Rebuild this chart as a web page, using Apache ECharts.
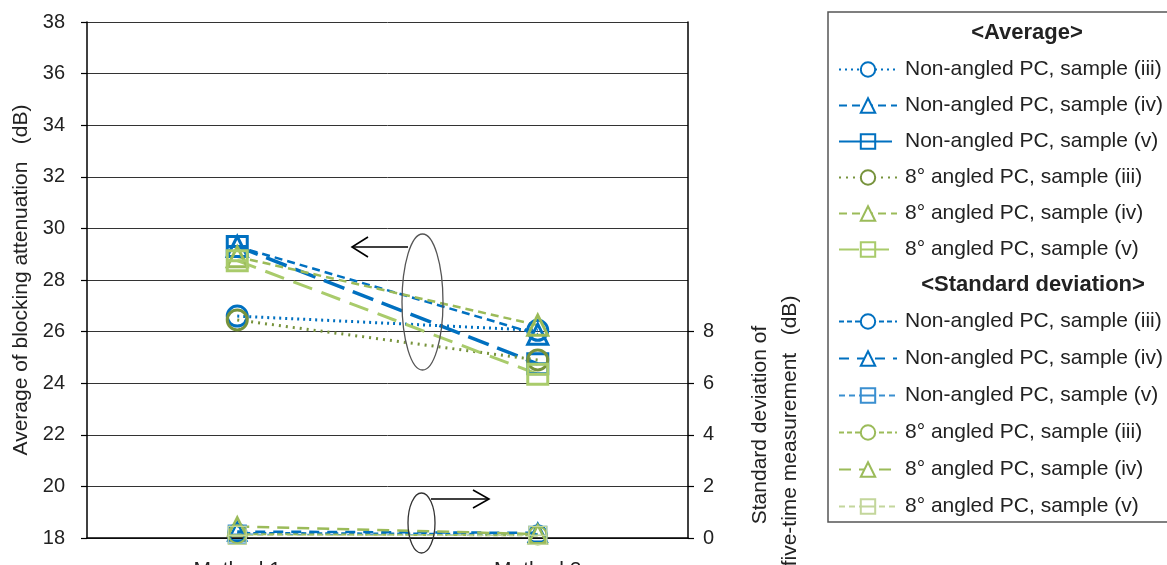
<!DOCTYPE html>
<html><head><meta charset="utf-8">
<script src="https://cdn.jsdelivr.net/npm/echarts@6/dist/echarts.min.js"></script>
<style>html,body{margin:0;padding:0;background:#fff}#c{width:1167px;height:565px}</style>
</head><body><div id="c"></div>
<script>
const categories = ['Method 1', 'Method 2'];
// Average of blocking attenuation (dB), left axis
const avgNonIII = [26.6, 26.05];
const avgNonIV = [29.3, 25.9];
const avgNonV = [29.3, 24.75];
const avg8III = [26.45, 24.9];
const avg8IV = [28.9, 26.25];
const avg8V = [28.75, 24.35];
// Standard deviation (dB), right axis
const sdNonIII = [0.2, 0.15];
const sdNonIV = [0.25, 0.2];
const sdNonV = [0.15, 0.1];
const sd8III = [0.15, 0.1];
const sd8IV = [0.45, 0.15];
const sd8V = [0.1, 0.1];
const leftTicks = [18, 20, 22, 24, 26, 28, 30, 32, 34, 36, 38];
const rightTicks = [0, 2, 4, 6, 8];
const legendNames = ['Non-angled PC, sample (iii)', 'Non-angled PC, sample (iv)', 'Non-angled PC, sample (v)',
  '8° angled PC, sample (iii)', '8° angled PC, sample (iv)', '8° angled PC, sample (v)'];

const FONT = '"Liberation Sans", Arial, sans-serif';
const BLUE = '#0070C0', OLIVE = '#77933C', GREEN = '#9BBB59', LGREEN = '#A9CB6B', PALE = '#C3D69B', LBLUE = '#3A8FD0';
const SQ = 'path://M0,0L20,0L20,20L0,20Z M0,10L20,10';

function mk(key, label, data, color, dash, width, symbol, size, bw, axis) {
  return {
    name: key + '|' + label, type: 'line', data: data, yAxisIndex: axis,
    symbol: symbol, symbolSize: size, showSymbol: true,
    lineStyle: { color: color, width: width, type: dash, cap: 'butt' },
    itemStyle: { color: 'rgba(255,255,255,0)', borderColor: color, borderWidth: bw },
    emphasis: { disabled: true }, animation: false, z: axis === 0 ? 3 : 2
  };
}

const series = [
  mk('a', legendNames[0], avgNonIII, BLUE, [2, 4], 3, 'circle', 20, 3, 0),
  mk('a', legendNames[1], avgNonIV, BLUE, [8, 5], 2.5, 'triangle', 20, 3, 0),
  mk('a', legendNames[2], avgNonV, BLUE, [22, 9], 3.5, SQ, 20, 3, 0),
  mk('a', legendNames[3], avg8III, OLIVE, [2, 5], 3, 'circle', 20, 3, 0),
  mk('a', legendNames[4], avg8IV, GREEN, [8, 5], 2.5, 'triangle', 20, 3, 0),
  mk('a', legendNames[5], avg8V, LGREEN, [20, 10], 3, SQ, 20, 3, 0),
  mk('s', legendNames[0], sdNonIII, BLUE, [5, 3], 2, 'circle', 18, 2, 1),
  mk('s', legendNames[1], sdNonIV, BLUE, [10, 8], 2.5, 'triangle', 18, 2.5, 1),
  mk('s', legendNames[2], sdNonV, LBLUE, [6, 4], 1.2, SQ, 18, 1.2, 1),
  mk('s', legendNames[3], sd8III, GREEN, [5, 3], 2, 'circle', 18, 2, 1),
  mk('s', legendNames[4], sd8IV, GREEN, [12, 8], 2.5, 'triangle', 18, 2.5, 1),
  mk('s', legendNames[5], sd8V, PALE, [6, 4], 1.2, SQ, 18, 1.2, 1)
];

function legendCfg(key, top, gap) {
  return {
    data: legendNames.map(n => key + '|' + n), orient: 'vertical', left: 838, top: top, padding: 0,
    itemWidth: 58, itemHeight: 18, itemGap: gap, selectedMode: false,
    formatter: n => n.split('|')[1],
    itemStyle: { color: '#fff' },
    textStyle: { fontSize: 21, color: '#222', fontFamily: FONT, padding: [0, 0, 0, 3] }
  };
}

const chart = echarts.init(document.getElementById('c'), null, { renderer: 'canvas' });
chart.setOption({
  animation: false,
  backgroundColor: '#fff',
  grid: { left: 87, right: 479, top: 22, bottom: 27, containLabel: false, outerBoundsMode: 'none' },
  xAxis: {
    type: 'category', data: categories, boundaryGap: true,
    axisLine: { lineStyle: { color: '#000', width: 1.5 } },
    axisTick: { show: false },
    axisLabel: { fontSize: 21, color: '#222', fontFamily: FONT, margin: 22 }
  },
  yAxis: [{
    type: 'value', min: leftTicks[0], max: leftTicks[leftTicks.length - 1], interval: 2, position: 'left',
    name: 'Average of blocking attenuation   (dB)', nameLocation: 'middle', nameGap: 54,
    nameTextStyle: { fontSize: 21, color: '#222', fontFamily: FONT },
    axisLine: { show: true, lineStyle: { color: '#000', width: 1.5 } },
    axisTick: { show: true, length: 6, lineStyle: { color: '#000', width: 1.2 } },
    axisLabel: { fontSize: 20, color: '#222', fontFamily: FONT, margin: 22 },
    splitLine: { show: true, lineStyle: { color: '#333', width: 1 } }
  }, {
    type: 'value', min: 0, max: 20, interval: 2, position: 'right',
    axisLine: { show: true, lineStyle: { color: '#000', width: 1.5 } },
    axisTick: { show: true, length: 6, customValues: rightTicks, lineStyle: { color: '#000', width: 1.2 } },
    axisLabel: { fontSize: 20, color: '#222', fontFamily: FONT, margin: 15, customValues: rightTicks },
    splitLine: { show: false }
  }],
  legend: [legendCfg('a', 59, 15), legendCfg('s', 311, 16)],
  series: series,
  graphic: [
    { type: 'rect', shape: { x: 828, y: 12, width: 345, height: 510 }, style: { fill: 'none', stroke: '#555', lineWidth: 1.5 }, silent: true },
    { type: 'text', x: 1027, y: 33, style: { text: '<Average>', font: 'bold 22px ' + FONT, fill: '#222', textAlign: 'center', textVerticalAlign: 'middle' } },
    { type: 'text', x: 1033, y: 285, style: { text: '<Standard deviation>', font: 'bold 22px ' + FONT, fill: '#222', textAlign: 'center', textVerticalAlign: 'middle' } },
    { type: 'text', x: 760, y: 425, rotation: Math.PI / 2, style: { text: 'Standard deviation of', font: '21px ' + FONT, fill: '#222', textAlign: 'center', textVerticalAlign: 'middle' } },
    { type: 'text', x: 790, y: 431, rotation: Math.PI / 2, style: { text: 'five-time measurement   (dB)', font: '21px ' + FONT, fill: '#222', textAlign: 'center', textVerticalAlign: 'middle' } },
    { type: 'ellipse', shape: { cx: 422.5, cy: 302, rx: 20.5, ry: 68 }, style: { fill: 'none', stroke: '#555', lineWidth: 1.3 }, z: 10 },
    { type: 'ellipse', shape: { cx: 421.5, cy: 523, rx: 13.5, ry: 30 }, style: { fill: 'none', stroke: '#333', lineWidth: 1.3 }, z: 10 },
    { type: 'polyline', shape: { points: [[408, 247], [352, 247]] }, style: { stroke: '#000', lineWidth: 1.6, fill: 'none' }, z: 10 },
    { type: 'polyline', shape: { points: [[368, 237], [352, 247], [368, 257]] }, style: { stroke: '#000', lineWidth: 1.6, fill: 'none' }, z: 10 },
    { type: 'polyline', shape: { points: [[431, 499], [489, 499]] }, style: { stroke: '#000', lineWidth: 1.6, fill: 'none' }, z: 10 },
    { type: 'polyline', shape: { points: [[473, 490], [489, 499], [473, 508]] }, style: { stroke: '#000', lineWidth: 1.6, fill: 'none' }, z: 10 }
  ]
});
</script></body></html>
